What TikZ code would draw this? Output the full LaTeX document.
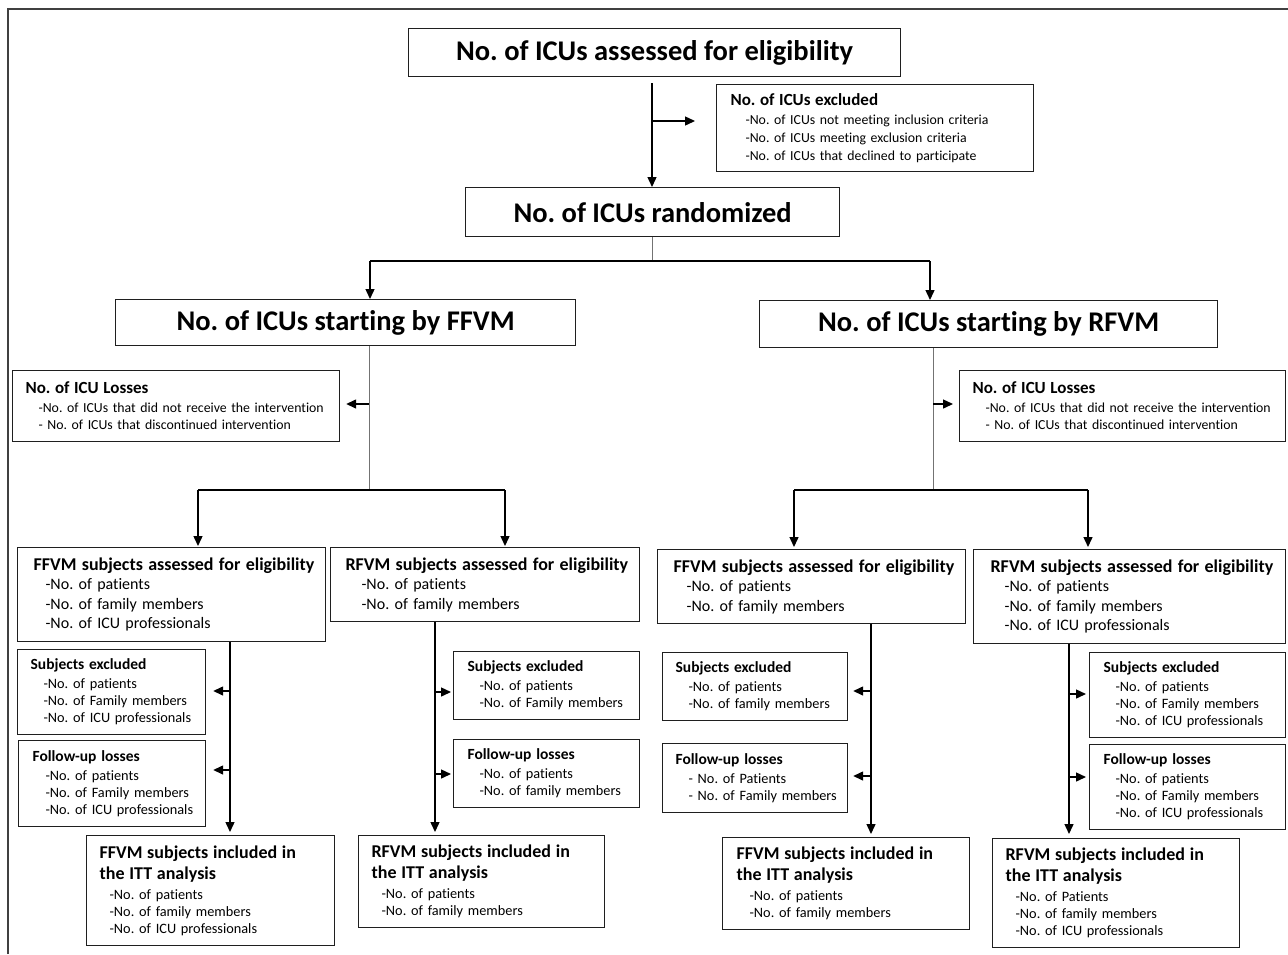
\documentclass[tikz,border=0pt]{standalone}
\usepackage{fontspec}
\setmainfont{Carlito}[Ligatures=NoCommon]
\usetikzlibrary{arrows.meta}
\frenchspacing
\newcommand\Hd[2]{\mbox{\fontsize{#1}{#1}\selectfont\bfseries #2}}
\newcommand\It[2]{\mbox{\hspace*{#1}#2}}
\tikzset{
  bx/.style={draw=black!88, line width=1.2pt, anchor=north west, inner ysep=0pt, align=left},
  ttl/.style={draw=black!88, line width=1.2pt, anchor=north west, inner sep=0pt, align=center,
    font=\fontsize{28.5}{30}\selectfont\bfseries},
  arr/.style={-{Triangle[length=10pt,width=9pt]}, line width=1.4pt, black},
  glin/.style={draw=black!55, line width=1pt},
  blin/.style={draw=black, line width=1.4pt},
  frm/.style={draw=black!75, line width=2pt}
}
\begin{document}
\begin{tikzpicture}[x=1pt,y=-1pt]
\useasboundingbox (0,0) rectangle (1288,954);
% frame
\coordinate (fA) at (8,954);
\coordinate (fB) at (8,9);
\coordinate (fC) at (1288,9);
\draw[frm] (fA) -- (fB) -- (fC);

% title boxes
\node[ttl, minimum width=492pt, minimum height=48pt] (A) at (408,28) {No. of ICUs assessed for eligibility};
\node[ttl, minimum width=374pt, minimum height=49pt] (B) at (465,187) {No. of ICUs randomized};
\node[ttl, minimum width=460pt, minimum height=46pt] (C) at (115,299) {No. of ICUs starting by FFVM};
\node[ttl, minimum width=458pt, minimum height=47pt] (D) at (759,300) {No. of ICUs starting by RFVM};

% ICU excluded
\node[bx, text width=289pt, inner xsep=14pt, minimum height=87pt, font=\fontsize{13.8}{18}\selectfont] (EX) at (716,84)
 {\Hd{17}{No. of ICUs excluded}\\[1pt]\It{15pt}{-No. of ICUs not meeting inclusion criteria}\\\It{15pt}{-No. of ICUs meeting exclusion criteria}\\\It{15pt}{-No. of ICUs that declined to participate}};

% ICU losses
\node[bx, text width=301pt, inner xsep=13pt, minimum height=71pt, font=\fontsize{13.8}{17.5}\selectfont] (LL) at (12,370)
 {\Hd{17}{No. of ICU Losses}\\[1pt]\It{13pt}{-No. of ICUs that did not receive the intervention}\\\It{13pt}{- No. of ICUs that discontinued intervention}};
\node[bx, text width=300pt, inner xsep=13pt, minimum height=71pt, font=\fontsize{13.8}{17.5}\selectfont] (LR) at (959,370)
 {\Hd{17}{No. of ICU Losses}\\[1pt]\It{13pt}{-No. of ICUs that did not receive the intervention}\\\It{13pt}{- No. of ICUs that discontinued intervention}};

% assessed for eligibility
\node[bx, text width=276pt, inner xsep=16pt, minimum height=94pt, font=\fontsize{16}{19.5}\selectfont] (E1) at (17,547)
 {\Hd{18}{FFVM subjects assessed for eligibility}\\\It{12pt}{-No. of patients}\\\It{12pt}{-No. of family members}\\\It{12pt}{-No. of ICU professionals}};
\node[bx, text width=279pt, inner xsep=15pt, minimum height=74pt, font=\fontsize{16}{19.5}\selectfont] (E2) at (330,547)
 {\Hd{18}{RFVM subjects assessed for eligibility}\\\It{16pt}{-No. of patients}\\\It{16pt}{-No. of family members}};
\node[bx, text width=276pt, inner xsep=16pt, minimum height=74pt, font=\fontsize{16}{19.5}\selectfont] (E3) at (657,549)
 {\Hd{18}{FFVM subjects assessed for eligibility}\\\It{13pt}{-No. of patients}\\\It{13pt}{-No. of family members}};
\node[bx, text width=278pt, inner xsep=17pt, minimum height=94pt, font=\fontsize{16}{19.5}\selectfont] (E4) at (973,549)
 {\Hd{18}{RFVM subjects assessed for eligibility}\\\It{14pt}{-No. of patients}\\\It{14pt}{-No. of family members}\\\It{14pt}{-No. of ICU professionals}};

% subjects excluded / follow-up losses
\node[bx, text width=162pt, inner xsep=13pt, minimum height=85pt, font=\fontsize{14.3}{17}\selectfont] (F1) at (17,649)
 {\Hd{15.5}{Subjects excluded}\\[2pt]\It{13pt}{-No. of patients}\\\It{13pt}{-No. of Family members}\\\It{13pt}{-No. of ICU professionals}};
\node[bx, text width=159pt, inner xsep=14pt, minimum height=86pt, font=\fontsize{14.3}{17}\selectfont] (H1) at (18,740)
 {\Hd{15.5}{Follow-up losses}\\[2pt]\It{13pt}{-No. of patients}\\\It{13pt}{-No. of Family members}\\\It{13pt}{-No. of ICU professionals}};
\node[bx, text width=158pt, inner xsep=14pt, minimum height=68pt, font=\fontsize{14.3}{17}\selectfont] (F2) at (453,651)
 {\Hd{15.5}{Subjects excluded}\\[2pt]\It{12pt}{-No. of patients}\\\It{12pt}{-No. of Family members}};
\node[bx, text width=158pt, inner xsep=14pt, minimum height=68pt, font=\fontsize{14.3}{17}\selectfont] (H2) at (453,739)
 {\Hd{15.5}{Follow-up losses}\\[2pt]\It{12pt}{-No. of patients}\\\It{12pt}{-No. of family members}};
\node[bx, text width=159pt, inner xsep=13pt, minimum height=68pt, font=\fontsize{14.3}{17}\selectfont] (F3) at (662,652)
 {\Hd{15.5}{Subjects excluded}\\[2pt]\It{13pt}{-No. of patients}\\\It{13pt}{-No. of family members}};
\node[bx, text width=159pt, inner xsep=13pt, minimum height=69pt, font=\fontsize{14.3}{17}\selectfont] (H3) at (662,743)
 {\Hd{15.5}{Follow-up losses}\\[2pt]\It{13pt}{- No. of Patients}\\\It{13pt}{- No. of Family members}};
\node[bx, text width=168pt, inner xsep=14pt, minimum height=85pt, font=\fontsize{14.3}{17}\selectfont] (F4) at (1089,652)
 {\Hd{15.5}{Subjects excluded}\\[2pt]\It{12pt}{-No. of patients}\\\It{12pt}{-No. of Family members}\\\It{12pt}{-No. of ICU professionals}};
\node[bx, text width=168pt, inner xsep=14pt, minimum height=85pt, font=\fontsize{14.3}{17}\selectfont] (H4) at (1089,744)
 {\Hd{15.5}{Follow-up losses}\\[2pt]\It{12pt}{-No. of patients}\\\It{12pt}{-No. of Family members}\\\It{12pt}{-No. of ICU professionals}};

% ITT analysis
\node[bx, text width=222pt, inner xsep=13pt, minimum height=110pt, font=\fontsize{14.3}{17}\selectfont] (G1) at (86,835)
 {\Hd{18}{FFVM subjects included in}\\[4pt]\Hd{18}{the ITT analysis}\\[3pt]\It{10pt}{-No. of patients}\\\It{10pt}{-No. of family members}\\\It{10pt}{-No. of ICU professionals}};
\node[bx, text width=220pt, inner xsep=13pt, minimum height=92pt, font=\fontsize{14.3}{17}\selectfont] (G2) at (358,835)
 {\Hd{18}{RFVM subjects included in}\\[4pt]\Hd{18}{the ITT analysis}\\[3pt]\It{10pt}{-No. of patients}\\\It{10pt}{-No. of family members}};
\node[bx, text width=219pt, inner xsep=14pt, minimum height=92pt, font=\fontsize{14.3}{17}\selectfont] (G3) at (722,837)
 {\Hd{18}{FFVM subjects included in}\\[4pt]\Hd{18}{the ITT analysis}\\[3pt]\It{13pt}{-No. of patients}\\\It{13pt}{-No. of family members}};
\node[bx, text width=221pt, inner xsep=13pt, minimum height=109pt, font=\fontsize{14.3}{17}\selectfont] (G4) at (992,838)
 {\Hd{18}{RFVM subjects included in}\\[4pt]\Hd{18}{the ITT analysis}\\[3pt]\It{10pt}{-No. of Patients}\\\It{10pt}{-No. of family members}\\\It{10pt}{-No. of ICU professionals}};

% ---- connectors ----
\coordinate (xm) at (652,0);
\coordinate (jEX) at (652,121);
\draw[arr, shorten <=6pt] (A.south -| xm) -- (B.north -| xm);
\draw[arr, shorten >=21pt] (jEX) -- (jEX -| EX.west);

\coordinate (s1) at (652,261);
\coordinate (s1L) at (370,261);
\coordinate (s1R) at (930,261);
\draw[glin] (B.south -| xm) -- (s1);
\draw[blin] (s1L) -- (s1R);
\draw[arr] (s1L) -- (C.north -| s1L);
\draw[arr] (s1R) -- (D.north -| s1R);

% left ICU branch
\coordinate (cx) at (369,0);
\coordinate (s2) at (369,490);
\coordinate (bL) at (369,404);
\coordinate (s2L) at (198,490);
\coordinate (s2R) at (505,490);
\draw[glin] (C.south -| cx) -- (s2);
\draw[arr, shorten >=6pt] (bL) -- (bL -| LL.east);
\draw[blin] (s2L) -- (s2R);
\draw[arr, shorten >=1pt] (s2L) -- (E1.north -| s2L);
\draw[arr, shorten >=1pt] (s2R) -- (E2.north -| s2R);

% right ICU branch
\coordinate (dx) at (933,0);
\coordinate (s3) at (933,490);
\coordinate (bR) at (933,404);
\coordinate (s3L) at (794,490);
\coordinate (s3R) at (1088,490);
\draw[glin] (D.south -| dx) -- (s3);
\draw[arr, shorten >=6pt] (bR) -- (bR -| LR.west);
\draw[blin] (s3L) -- (s3R);
\draw[arr, shorten >=2pt] (s3L) -- (E3.north -| s3L);
\draw[arr, shorten >=2pt] (s3R) -- (E4.north -| s3R);

% column 1
\coordinate (x1) at (230,0);
\coordinate (p1a) at (230,691);
\coordinate (p1b) at (230,770);
\draw[arr, shorten >=3pt] (E1.south -| x1) -- (G1.north -| x1);
\draw[arr, shorten >=7pt] (p1a) -- (p1a -| F1.east);
\draw[arr, shorten >=7pt] (p1b) -- (p1b -| H1.east);

% column 2
\coordinate (x2) at (435,0);
\coordinate (p2a) at (435,692);
\coordinate (p2b) at (435,774);
\draw[arr, shorten >=3pt] (E2.south -| x2) -- (G2.north -| x2);
\draw[arr, shorten >=2pt] (p2a) -- (p2a -| F2.west);
\draw[arr, shorten >=2pt] (p2b) -- (p2b -| H2.west);

% column 3
\coordinate (x3) at (871,0);
\coordinate (p3a) at (871,691);
\coordinate (p3b) at (871,776);
\draw[arr, shorten >=3pt] (E3.south -| x3) -- (G3.north -| x3);
\draw[arr, shorten >=5pt] (p3a) -- (p3a -| F3.east);
\draw[arr, shorten >=5pt] (p3b) -- (p3b -| H3.east);

% column 4
\coordinate (x4) at (1069,0);
\coordinate (p4a) at (1069,694);
\coordinate (p4b) at (1069,777);
\draw[arr, shorten >=4pt] (E4.south -| x4) -- (G4.north -| x4);
\draw[arr, shorten >=3pt] (p4a) -- (p4a -| F4.west);
\draw[arr, shorten >=3pt] (p4b) -- (p4b -| H4.west);
\end{tikzpicture}
\end{document}
